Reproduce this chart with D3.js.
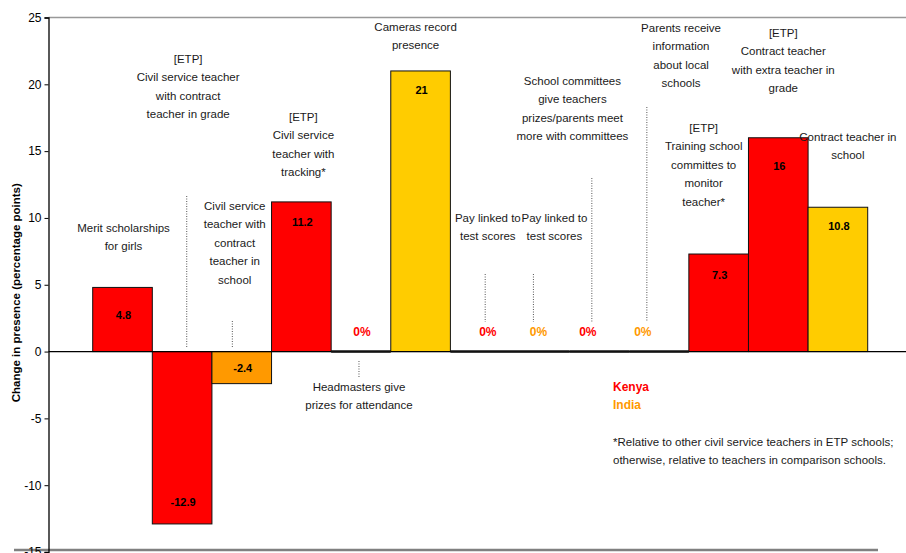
<!DOCTYPE html>
<meta charset="utf-8">
<style>
  body { margin: 0; background: #fff; }
  text { font-family: "Liberation Sans", Arial, sans-serif; }
  .note { font-size: 11.5px; fill: #1a1a1a; }
  .val { font-size: 11px; font-weight: bold; fill: #000; }
</style>
<body>
<div id="chart"></div>
<script src="https://cdn.jsdelivr.net/npm/d3@7"></script>
<script>

  // data
  const categories = [
    "Merit scholarships\nfor girls",
    "[ETP]\nCivil service teacher\nwith contract\nteacher in grade",
    "Civil service\nteacher with\ncontract\nteacher in\nschool",
    "[ETP]\nCivil service\nteacher with\ntracking*",
    "Headmasters give\nprizes for attendance",
    "Cameras record\npresence",
    "Pay linked to\ntest scores",
    "Pay linked to\ntest scores",
    "School committees\ngive teachers\nprizes/parents meet\nmore with committees",
    "Parents receive\ninformation\nabout local\nschools",
    "[ETP]\nTraining school\ncommittes to\nmonitor\nteacher*",
    "[ETP]\nContract teacher\nwith extra teacher in\ngrade",
    "Contract teacher in\nschool"
  ];
  const values = [4.8, -12.9, -2.4, 11.2, 0, 21, 0, 0, 0, 0, 7.3, 16, 10.8];
  const country = ["Kenya", "Kenya", "India", "Kenya", "Kenya", "India", "Kenya",
                   "India", "Kenya", "India", "Kenya", "Kenya", "India"];
  const shade = ["Kenya", "Kenya", "India", "Kenya", "Kenya", "India B", "Kenya",
                 "India", "Kenya", "India", "Kenya", "Kenya", "India B"];
  const yTicks = [25, 20, 15, 10, 5, 0, -5, -10, -15];

  // annotation layout (dx from band centre, y of first line, leader line)
  const noteLayout = [
    {dx: 1, y: 228},
    {dx: 6, y: 59, lx: 4.6, ly: [196, 348]},
    {dx: -7, y: 206, lx: -9.4, ly: [321, 348]},
    {dx: 2, y: 117},
    {dx: -2, y: 387, lx: -2, ly: [361, 377]},
    {dx: -5, y: 27},
    {dx: 7.6, y: 218, lx: 5, ly: [274, 322]},
    {dx: 14.6, y: 218, lx: -6.4, ly: [274, 322]},
    {dx: -27, y: 81, lx: -7.6, ly: [178, 322]},
    {dx: 22, y: 28, lx: -12.2, ly: [107, 322]},
    {dx: -15, y: 128},
    {dx: 5, y: 33},
    {dx: 10, y: 137}
  ];
  const zeroDx = [0, 0, 0, 0, 1, 0, 7.6, -1.4, -11.6, -16.2, 0, 0, 0];
  const valOffset = [28, 22, 16, 20.5, 0, 19, 0, 0, 0, 0, 21, 28, 19];
  const lineGap = 18.4;

  const W = 906, H = 553;
  const svg = d3.select("#chart").append("svg")
    .attr("width", W).attr("height", H);

  const x = d3.scaleBand().domain(d3.range(categories.length))
    .range([92.7, 867.7]).padding(0);
  const y = d3.scaleLinear().domain([-15, 25]).range([552, 17.5]);
  const color = d3.scaleOrdinal().domain(["Kenya", "India", "India B"])
    .range(["#ff0000", "#ff9900", "#ffcc00"]);
  const textColor = d3.scaleOrdinal().domain(["Kenya", "India"])
    .range(["#ff0000", "#ff9900"]);

  const axisX = 48.5;

  // frame lines
  svg.append("line").attr("x1", axisX).attr("x2", W)
    .attr("y1", y(25)).attr("y2", y(25))
    .attr("stroke", "#999").attr("stroke-width", 1.5);
  svg.append("line").attr("x1", 14).attr("x2", 878)
    .attr("y1", 550).attr("y2", 550)
    .attr("stroke", "#808080").attr("stroke-width", 2.5);

  // y axis
  const yAxis = svg.append("g")
    .attr("transform", `translate(${axisX},0)`)
    .call(d3.axisLeft(y).tickValues(yTicks).tickSize(4).tickPadding(3)
      .tickFormat(d => String(d)));
  yAxis.select(".domain").attr("stroke", "#000").attr("stroke-width", 1.3);
  yAxis.selectAll(".tick line").attr("stroke", "#000");
  yAxis.selectAll(".tick text").attr("font-size", 12)
    .attr("font-family", "'Liberation Sans', Arial, sans-serif").attr("fill", "#000");

  svg.append("text")
    .attr("transform", `translate(20,${(y(25) + y(-15)) / 2 + 8}) rotate(-90)`)
    .attr("text-anchor", "middle")
    .attr("font-size", 11.5).attr("font-weight", "bold")
    .text("Change in presence (percentage points)");

  const data = values.map((v, i) => ({i, v, country: country[i], shade: shade[i]}));

  // bars
  svg.append("g").selectAll("rect")
    .data(data.filter(d => d.v !== 0))
    .join("rect")
    .attr("x", d => x(d.i))
    .attr("width", x.bandwidth())
    .attr("y", d => y(Math.max(0, d.v)))
    .attr("height", d => Math.abs(y(d.v) - y(0)))
    .attr("fill", d => color(d.shade))
    .attr("stroke", "#111").attr("stroke-width", 1);

  // zero line
  svg.append("line").attr("x1", axisX).attr("x2", W)
    .attr("y1", y(0)).attr("y2", y(0))
    .attr("stroke", "#000").attr("stroke-width", 1.3);

  // zero bars drawn as thick lines
  svg.append("g").selectAll("line")
    .data(data.filter(d => d.v === 0))
    .join("line")
    .attr("x1", d => x(d.i)).attr("x2", d => x(d.i) + x.bandwidth())
    .attr("y1", y(0)).attr("y2", y(0))
    .attr("stroke", "#111").attr("stroke-width", 2.6);

  // value labels
  svg.append("g").selectAll("text")
    .data(data.filter(d => d.v !== 0))
    .join("text")
    .attr("class", "val")
    .attr("text-anchor", "middle")
    .attr("x", d => x(d.i) + x.bandwidth() / 2 + 1)
    .attr("y", d => (d.v > 0 ? y(d.v) + valOffset[d.i] : y(d.v) - valOffset[d.i]) + 4)
    .text(d => d.v);

  // 0% labels
  svg.append("g").selectAll("text")
    .data(data.filter(d => d.v === 0))
    .join("text")
    .attr("text-anchor", "middle")
    .attr("font-size", 12).attr("font-weight", "bold")
    .attr("fill", d => textColor(d.country))
    .attr("x", d => x(d.i) + x.bandwidth() / 2 + zeroDx[d.i])
    .attr("y", y(0) - 16)
    .text("0%");

  // leader lines
  svg.append("g").selectAll("line")
    .data(data.filter(d => noteLayout[d.i].ly))
    .join("line")
    .attr("x1", d => x(d.i) + x.bandwidth() / 2 + noteLayout[d.i].lx)
    .attr("x2", d => x(d.i) + x.bandwidth() / 2 + noteLayout[d.i].lx)
    .attr("y1", d => noteLayout[d.i].ly[0])
    .attr("y2", d => noteLayout[d.i].ly[1])
    .attr("stroke", "#555").attr("stroke-width", 1)
    .attr("stroke-dasharray", "1,1.5");

  // category notes
  const notes = svg.append("g").selectAll("text")
    .data(data)
    .join("text")
    .attr("class", "note")
    .attr("text-anchor", "middle")
    .attr("transform", d => `translate(${x(d.i) + x.bandwidth() / 2 + noteLayout[d.i].dx},${noteLayout[d.i].y + 4})`);
  notes.selectAll("tspan")
    .data(d => categories[d.i].split("\n"))
    .join("tspan")
    .attr("x", 0)
    .attr("y", (s, k) => k * lineGap)
    .text(s => s);

  // legend
  const legend = svg.append("g").attr("transform", "translate(613,0)");
  legend.selectAll("text")
    .data(["Kenya", "India"])
    .join("text")
    .attr("y", (d, k) => 391 + k * 18)
    .attr("font-size", 12).attr("font-weight", "bold")
    .attr("fill", d => textColor(d))
    .text(d => d);

  const foot = ["*Relative to other civil service teachers in ETP schools;",
                "otherwise, relative to teachers in comparison schools."];
  legend.selectAll("text.foot")
    .data(foot)
    .join("text")
    .attr("class", "note foot")
    .attr("y", (d, k) => 445.5 + k * 18.5)
    .text(d => d);

</script>
